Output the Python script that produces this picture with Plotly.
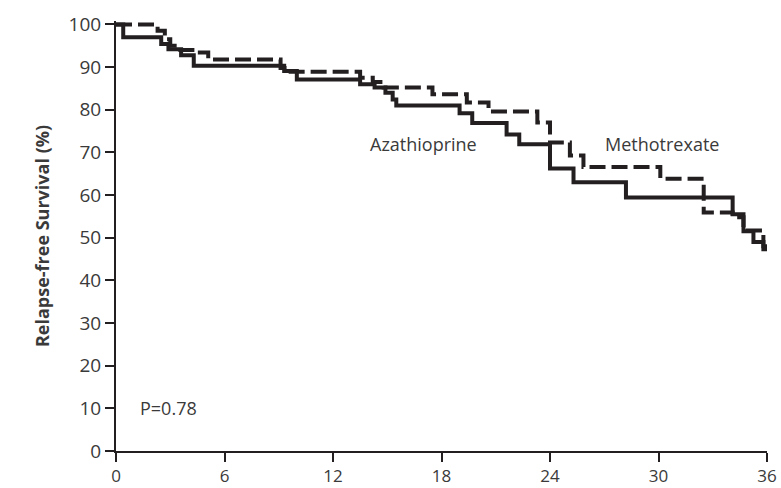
import plotly.graph_objects as go

# Kaplan-Meier step data (months, % relapse-free)
aza_months = [0, 0.4, 2.5, 2.9, 3.6, 4.3, 9.3, 10.0, 13.5, 14.3, 14.9, 15.3, 15.5,
              19.0, 19.7, 21.6, 22.3, 24.0, 25.3, 28.2, 34.1, 34.7, 35.25, 35.8, 36]
aza_surv = [100, 97.0, 95.4, 94.2, 92.8, 90.3, 89.1, 87.1, 86.0, 85.2, 84.0, 82.4, 81.0,
            79.2, 76.9, 74.2, 71.9, 66.2, 63.0, 59.4, 55.5, 51.5, 49.0, 47.3, 47.3]

mtx_months = [0, 2.3, 2.7, 3.0, 3.4, 4.5, 5.1, 9.1, 9.5, 13.5, 14.2, 14.8, 17.5,
              19.4, 20.6, 23.3, 24.0, 25.1, 25.85, 30.1, 32.5, 34.1, 34.7, 35.8, 36]
mtx_surv = [100, 98.5, 96.5, 95.0, 94.0, 93.4, 91.8, 89.8, 88.9, 87.5, 86.5, 85.2, 83.6,
            81.7, 79.6, 77.0, 72.3, 69.3, 66.6, 63.8, 55.9, 54.8, 51.7, 48.0, 48.0]

x_ticks = [0, 6, 12, 18, 24, 30, 36]
y_ticks = list(range(0, 101, 10))

ink = "#231f20"
txt = "#3a3a3a"
font_family = "Open Sans, Noto Sans, DejaVu Sans, sans-serif"

fig = go.Figure()
fig.add_trace(go.Scatter(x=mtx_months, y=mtx_surv, mode="lines", line_shape="hv",
                         line=dict(color=ink, width=4, dash="16px,6px"),
                         name="Methotrexate"))
fig.add_trace(go.Scatter(x=aza_months, y=aza_surv, mode="lines", line_shape="hv",
                         line=dict(color=ink, width=4),
                         name="Azathioprine"))

fig.add_annotation(x=17, y=72, text="Azathioprine", showarrow=False,
                   font=dict(size=18, color=txt, family=font_family))
fig.add_annotation(x=30.2, y=72, text="Methotrexate", showarrow=False,
                   font=dict(size=18, color=txt, family=font_family))
fig.add_annotation(x=1.2, y=10, text="P=0.78", showarrow=False, xanchor="left",
                   font=dict(size=18, color=txt, family=font_family))

fig.update_layout(
    width=781, height=488,
    margin=dict(l=116, r=14, t=21, b=37, autoexpand=False),
    plot_bgcolor="white", paper_bgcolor="white",
    showlegend=False,
    font=dict(family=font_family, size=18, color=txt),
)
fig.update_xaxes(range=[0, 36], tickvals=x_ticks, ticktext=[str(v) for v in x_ticks],
                 automargin=False,
                 showgrid=False, zeroline=False, showline=True, linecolor=ink, linewidth=2,
                 ticks="outside", ticklen=9, tickwidth=2, tickcolor=ink,
                 tickfont=dict(size=17, color=txt))
fig.update_yaxes(range=[0, 100.8], tickvals=y_ticks, ticktext=[str(v) for v in y_ticks],
                 automargin=False,
                 showgrid=False, zeroline=False, showline=True, linecolor=ink, linewidth=2,
                 ticks="outside", ticklen=9, tickwidth=2, tickcolor=ink,
                 tickfont=dict(size=19, color=txt),
                 title=dict(text="<b>Relapse-free Survival (%)</b>", standoff=14,
                            font=dict(size=18, color=txt)))

fig.write_html("out.html", config={"displayModeBar": False},
               post_script="document.body.style.margin='0';document.body.style.overflow='hidden';")
